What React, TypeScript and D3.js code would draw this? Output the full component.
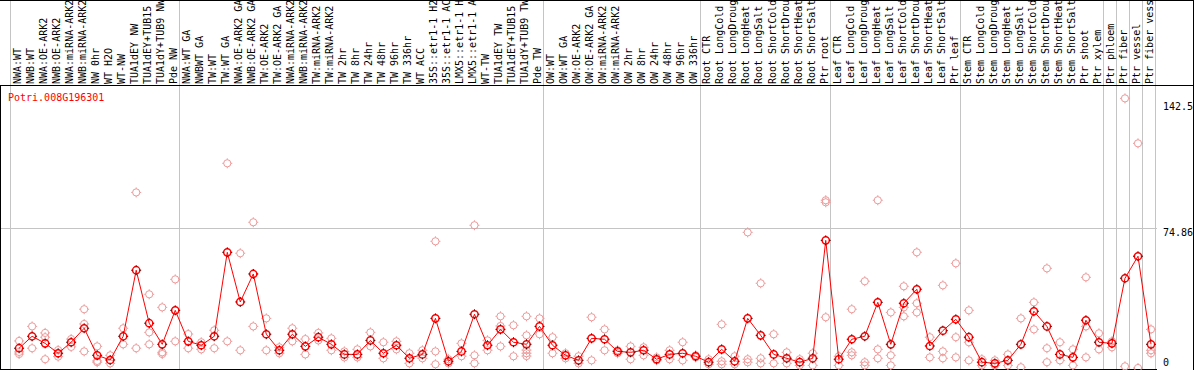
import { useEffect, useRef } from 'react';
import * as d3 from 'd3';

const geneId = 'Potri.008G196301';

const sampleLabels = [
  'NWA:WT', 'NWB:WT', 'NWA:OE-ARK2', 'NWB:OE-ARK2', 'NWA:miRNA-ARK2', 'NWB:miRNA-ARK2',
  'NW 0hr', 'WT H2O', 'WT-NW', 'TUA1dEY NW', 'TUA1dEY+TUB15 NW', 'TUA1dY+TUB9 NW', 'Pde NW',
  'NWA:WT GA', 'NWBWT GA', 'TW:WT', 'TW:WT GA', 'NWA:OE-ARK2 GA', 'NWB:OE-ARK2 GA',
  'TW:OE-ARK2', 'TW:OE-ARK2 GA', 'NWA:miRNA-ARK2', 'NWB:miRNA-ARK2', 'TW:miRNA-ARK2',
  'TW:miRNA-ARK2', 'TW 2hr', 'TW 8hr', 'TW 24hr', 'TW 48hr', 'TW 96hr', 'TW 336hr', 'WT ACC',
  '35S::etr1-1 H2O', '35S::etr1-1 ACC', 'LMX5::etr1-1 H2O', 'LMX5::etr1-1 ACC', 'WT-TW',
  'TUA1dEY TW', 'TUA1dEY+TUB15 TW', 'TUA1dY+TUB9 TW', 'Pde TW',
  'OW:WT', 'OW:WT GA', 'OW:OE-ARK2', 'OW:OE-ARK2 GA', 'OW:miRNA-ARK2', 'OW:miRNA-ARK2',
  'OW 2hr', 'OW 8hr', 'OW 24hr', 'OW 48hr', 'OW 96hr', 'OW 336hr',
  'Root CTR', 'Root LongCold', 'Root LongDrought', 'Root LongHeat', 'Root LongSalt',
  'Root ShortCold', 'Root ShortDrought', 'Root ShortHeat', 'Root ShortSalt', 'Ptr root',
  'Leaf CTR', 'Leaf LongCold', 'Leaf LongDrought', 'Leaf LongHeat', 'Leaf LongSalt',
  'Leaf ShortCold', 'Leaf ShortDrought', 'Leaf ShortHeat', 'Leaf ShortSalt', 'Ptr leaf',
  'Stem CTR', 'Stem LongCold', 'Stem LongDrought', 'Stem LongHeat', 'Stem LongSalt',
  'Stem ShortCold', 'Stem ShortDrought', 'Stem ShortHeat', 'Stem ShortSalt', 'Ptr shoot',
  'Ptr xylem', 'Ptr phloem', 'Ptr fiber', 'Ptr vessel', 'Ptr fiber vessel'
];

// column indexes where a grey separator is drawn
const groupBreaks = [0, 13, 41, 53, 63, 73, 84, 85, 86, 87, 88];

const meanValues = [
  10.6, 17.0, 13.2, 7.9, 13.8, 21.3, 6.8, 4.3, 17.0, 52.4,
  24.0, 12.7, 30.9, 14.3, 12.2, 17.0, 62.0, 35.4, 50.4, 18.1,
  9.5, 18.1, 11.6, 16.5, 12.7, 7.3, 7.3, 14.8, 7.9, 12.2,
  5.2, 7.3, 26.6, 3.6, 8.9, 28.8, 12.2, 20.7, 13.8, 12.7,
  22.3, 12.2, 6.8, 4.1, 15.9, 15.4, 8.9, 8.4, 9.5, 4.7,
  7.3, 7.9, 6.3, 3.1, 10.0, 3.6, 26.6, 17.5, 7.3, 5.2,
  3.1, 5.2, 68.4, 4.7, 15.4, 17.0, 35.2, 12.7, 34.7, 42.2,
  11.8, 20.0, 26.1, 16.5, 3.1, 2.5, 4.1, 12.7, 30.4, 22.3,
  7.3, 5.7, 25.6, 13.8, 13.2, 48.1, 59.9, 12.7
];

const replicateValues = [
  [14.5, 8.6, 7.5], [22.3, 10.6], [18.8, 16.5, 4.7], [9.6, 6.1], [15.5, 11.3],
  [31.5, 23.6, 8.9], [11.6, 3.8, 3.1], [6.8, 2.5], [21.3, 12.7], [94.1, 10.6],
  [39.5, 19.1, 12.7], [32.5, 8.4, 7.5], [47.5, 14.3], [18.2, 10.6], [13.8, 10.0],
  [20.2, 10.6], [109.7, 14.3], [61.5, 9.5], [78.1, 22.3], [26.6, 9.5],
  [11.1, 7.9], [21.3, 14.3], [15.5, 7.3], [18.8, 14.8], [15.9, 9.5],
  [8.9, 5.7], [10.0, 5.7], [19.1, 11.6], [13.8, 5.2], [14.3, 10.0],
  [7.9, 2.5], [9.5, 5.2], [67.9, 8.9, 2.0], [4.7, 2.5], [13.2, 6.3],
  [76.5, 6.8, 2.5], [14.8, 9.5], [27.7, 22.5, 11.6], [22.9, 6.3], [27.7, 17.5, 9.6, 7.9, 6.4],
  [26.6, 18.1], [16.5, 7.9], [7.9, 5.2], [6.3, 2.5], [27.2, 4.1],
  [20.7, 9.5], [9.5, 7.9], [11.6, 4.7], [11.1, 6.8], [5.7, 4.1],
  [9.5, 4.7], [13.8, 4.1], [6.8, 5.7], [4.7, 2.0], [23.4, 3.6, 2.0],
  [6.3, 2.0], [72.7, 4.7, 3.1], [45.4, 5.2, 2.5], [18.1, 2.5], [8.4, 2.5],
  [4.7, 1.4], [7.9, 1.4], [89.9, 88.8, 27.2], [6.3, 1.4], [31.5, 8.4, 6.8],
  [46.5, 3.1, 1.4], [89.9, 10.0, 5.2], [29.8, 6.8, 1.4], [43.8, 32.5, 27.7], [62.0, 34.7, 29.8],
  [16.5, 5.7], [44.3, 8.9, 5.2], [56.1, 16.5, 5.7], [30.9, 13.8, 4.1], [4.7, 1.4],
  [4.1, 1.4], [7.3, 1.4], [26.6, 0.4], [35.2, 20.7], [53.4, 10.6, 3.1],
  [13.8, 4.1], [10.0, 1.4], [48.6, 22.3, 5.7], [18.6, 10.0], [14.3, 11.1],
  [144.5, 0.9], [120.4, 0.0], [20.7, 9.5, 7.9]
];

const yTickValues = [0, 74.86, 142.5];
const yTickLabels = ['0', '74.86', '142.5'];

const App = () => {
  const svgRef = useRef(null);

  useEffect(() => {
    document.body.style.margin = '0';
    const svg = d3.select(svgRef.current);
    svg.selectAll('*').remove();

    const width = 1194;
    const height = 370;
    const headerBottom = 85.5;
    const plotRight = 1155;
    const mono = "'DejaVu Sans Mono', monospace";
    const grey = '#c4c4c4';

    const xScale = d3.scaleLinear().domain([0, sampleLabels.length]).range([10, 1154.9]);
    const xPoint = (i) => xScale(i + 0.7);

    const yScale = d3.scaleLinear().domain([0, 142.5]).range([368, 102.1]);

    // grey column group separators
    svg
      .append('g')
      .selectAll('line')
      .data(groupBreaks)
      .enter()
      .append('line')
      .attr('x1', (k) => Math.round(xScale(k)) + 0.5)
      .attr('x2', (k) => Math.round(xScale(k)) + 0.5)
      .attr('y1', 0)
      .attr('y2', height)
      .attr('stroke', grey)
      .attr('stroke-width', 1);

    // horizontal grid line at the middle tick
    svg
      .append('line')
      .attr('x1', 0)
      .attr('x2', plotRight + 2)
      .attr('y1', Math.round(yScale(yTickValues[1])) + 0.5)
      .attr('y2', Math.round(yScale(yTickValues[1])) + 0.5)
      .attr('stroke', grey);

    // frame
    const frame = svg.append('g').attr('stroke', '#000').attr('stroke-width', 1);
    frame.append('line').attr('x1', 0).attr('x2', width).attr('y1', 0.5).attr('y2', 0.5);
    frame.append('line').attr('x1', 0).attr('x2', width).attr('y1', headerBottom).attr('y2', headerBottom);
    frame.append('line').attr('x1', 0.5).attr('x2', 0.5).attr('y1', headerBottom).attr('y2', height);
    frame.append('line').attr('x1', 0).attr('x2', plotRight + 2).attr('y1', 369.5).attr('y2', 369.5);
    frame.append('line').attr('x1', width - 0.5).attr('x2', width - 0.5).attr('y1', 0).attr('y2', height);

    // rotated sample labels (long ones run off the top, as in the original)
    svg
      .append('g')
      .selectAll('text')
      .data(sampleLabels)
      .enter()
      .append('text')
      .attr('transform', (d, i) => `translate(${xPoint(i) + 1.8},84) rotate(-90)`)
      .attr('text-anchor', 'start')
      .style('font-family', mono)
      .style('font-size', '10px')
      .attr('fill', '#000')
      .text((d) => d);

    // title
    svg
      .append('text')
      .attr('x', 8)
      .attr('y', 101)
      .style('font-family', mono)
      .style('font-size', '10px')
      .attr('fill', '#ff0000')
      .text(geneId);

    // y labels on the right
    svg
      .append('g')
      .selectAll('text')
      .data(yTickValues)
      .enter()
      .append('text')
      .attr('x', 1163)
      .attr('y', (d) => Math.min(yScale(d) + 8, 365.5))
      .style('font-family', mono)
      .style('font-size', '10px')
      .attr('fill', '#000')
      .text((d, i) => yTickLabels[i]);

    const tickPath = (r, t) =>
      `M0,${-r}V${-t}M0,${r}V${t}M${-r},0H${-t}M${r},0H${t}`;

    const drawMarker = (g, ringColour, tickColour, strokeW) => {
      g.append('circle')
        .attr('r', 3.6)
        .attr('fill', 'none')
        .attr('stroke', ringColour)
        .attr('stroke-width', strokeW);
      g.append('path')
        .attr('d', tickPath(3.6, 5))
        .attr('stroke', tickColour)
        .attr('stroke-width', 1);
    };

    // replicate points
    const repData = replicateValues.flatMap((reps, i) => reps.map((v) => ({ i, v })));
    svg
      .append('g')
      .selectAll('g')
      .data(repData)
      .enter()
      .append('g')
      .attr('transform', (d) => `translate(${xPoint(d.i)},${yScale(d.v)})`)
      .each(function () {
        drawMarker(d3.select(this), '#ec9a9a', '#ec9a9a', 1);
      });

    // mean line
    const lineGenerator = d3
      .line()
      .x((d, i) => xPoint(i))
      .y((d) => yScale(d));

    svg
      .append('path')
      .attr('fill', 'none')
      .attr('stroke', '#ff0000')
      .attr('stroke-width', 1)
      .attr('d', lineGenerator(meanValues));

    // mean markers
    svg
      .append('g')
      .selectAll('g')
      .data(meanValues)
      .enter()
      .append('g')
      .attr('transform', (d, i) => `translate(${xPoint(i)},${yScale(d)})`)
      .each(function () {
        drawMarker(d3.select(this), '#ff0000', '#550000', 1.5);
      });
  }, []);

  return (
    <div style={{ position: 'absolute', left: 0, top: 0 }}>
      <svg ref={svgRef} width={1194} height={370} style={{ display: 'block', background: '#fff' }}></svg>
    </div>
  );
};

export default App;
